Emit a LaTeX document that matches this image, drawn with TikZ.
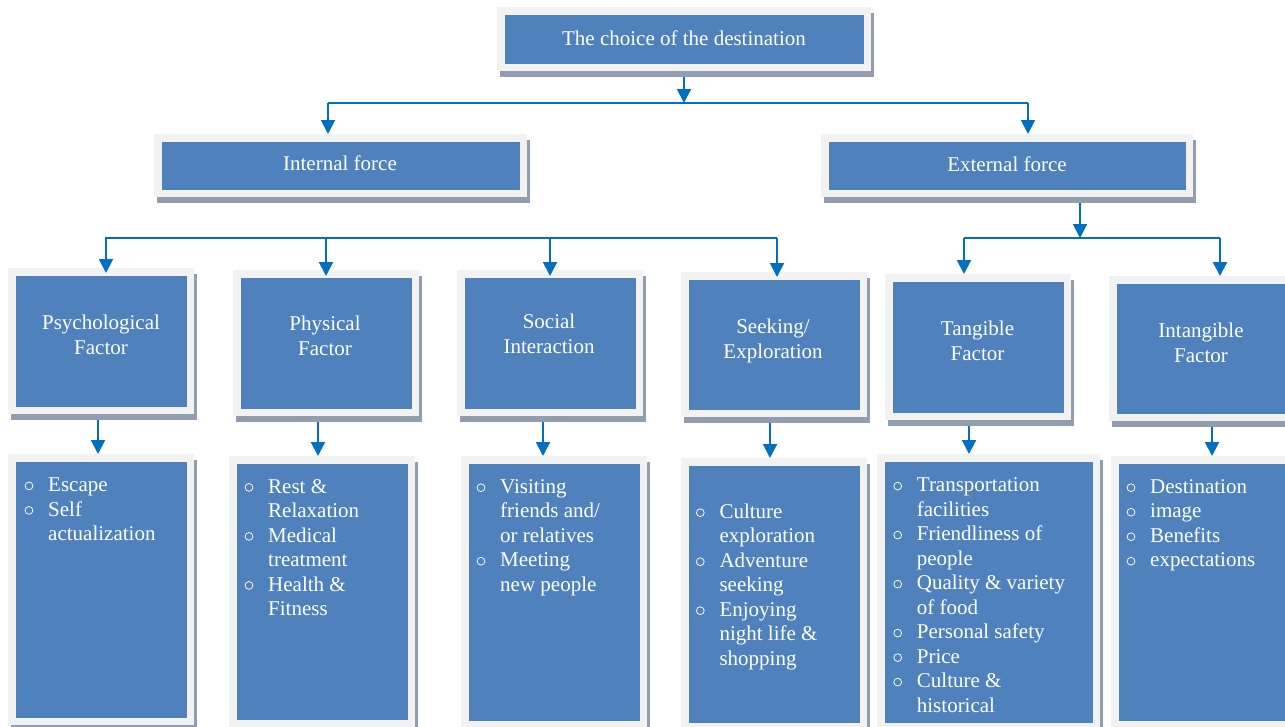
\documentclass[tikz,border=0pt]{standalone}
\usepackage{fontspec}
\setmainfont{Liberation Serif}
\usetikzlibrary{arrows.meta,fit,shadows}

\definecolor{boxblue}{HTML}{4F81BD}
\definecolor{framegray}{HTML}{F2F2F2}
\definecolor{shadowgray}{RGB}{146,158,175}
\definecolor{lineblue}{HTML}{0070C0}

% hollow list bullet and hanging indent for wrapped lines
\newcommand\bul{\makebox[24pt][l]{\tikz[baseline=0pt]{%
  \path (0pt,0pt) (9.6pt,0pt);
  \draw[white, line width=0.75pt] (4.8pt,5.6pt) circle[radius=3.9pt];}}}
\newcommand\cont{\hspace*{24pt}}

\tikzset{
  panel/.style={fill=framegray, inner sep=0pt, outer sep=0pt,
    drop shadow={shadow xshift=3pt, shadow yshift=-6pt, fill=shadowgray, opacity=1},
    path picture={\fill[boxblue]
      ([shift={(7.5pt,7.5pt)}]path picture bounding box.south west) rectangle
      ([shift={(-7.5pt,-7.5pt)}]path picture bounding box.north east);}},
  lbl/.style={text=white, inner sep=0pt, anchor=base, font=\fontsize{21}{25}\selectfont},
  lst/.style={text=white, inner sep=0pt, anchor=base west, font=\fontsize{21}{24.5}\selectfont},
  bus/.style={draw=lineblue, line width=2pt},
  arr/.style={draw=lineblue, line width=2pt, -{Triangle[width=14pt,length=14pt]}},
}

\begin{document}
\begin{tikzpicture}[x=1pt,y=-1pt]
\useasboundingbox (0,0) rectangle (1285,726);
\clip (0,0) rectangle (1285,726);

% ---- framed boxes ----
\node[panel, fit={(497,7) (871,71)}] (top) {};
\node[panel, fit={(154,134) (527,197)}] (int) {};
\node[panel, fit={(821,134) (1193,197)}] (ext) {};

\node[panel, fit={(8,268) (194,414)}] (psy) {};
\node[panel, fit={(233,270) (419,416)}] (phy) {};
\node[panel, fit={(457,270) (643,416)}] (soc) {};
\node[panel, fit={(681,272) (867,417)}] (see) {};
\node[panel, fit={(885,274) (1071,420)}] (tan) {};
\node[panel, fit={(1109,276) (1297,421)}] (itn) {};

\node[panel, fit={(8,454) (194,725)}] (psyL) {};
\node[panel, fit={(229,456) (415,727)}] (phyL) {};
\node[panel, fit={(461,456) (647,728)}] (socL) {};
\node[panel, fit={(681,458) (867,730)}] (seeL) {};
\node[panel, fit={(877,454) (1100,730)}] (tanL) {};
\node[panel, fit={(1111,456) (1299,728)}] (itnL) {};

% ---- connector points ----
\coordinate (b1l) at (328,103);
\coordinate (b1r) at (1028,103);
\coordinate (b2l) at (105,238);
\coordinate (b2r) at (777,238);
\coordinate (d1) at (106,238);
\coordinate (d2) at (326,238);
\coordinate (d3) at (550,238);
\coordinate (d4) at (777,238);
\coordinate (e0) at (1080,238);
\coordinate (b3l) at (964,238);
\coordinate (b3r) at (1220,238);
\coordinate (a1) at (98,440);
\coordinate (a2) at (318,440);
\coordinate (a3) at (543,440);
\coordinate (a4) at (770,440);
\coordinate (a5) at (969,440);
\coordinate (a6) at (1212,440);

% ---- connectors ----
\draw[arr, shorten <=6pt] (top.south) -- (top.south |- b1l);
\draw[bus] (b1l) -- (b1r);
\draw[arr] (b1l) -- (b1l |- int.north);
\draw[arr] (b1r) -- (b1r |- ext.north);

\draw[bus] (b2l) -- (b2r);
\draw[arr, shorten >=-5pt] (d1) -- (d1 |- psy.north);
\draw[arr, shorten >=-6pt] (d2) -- (d2 |- phy.north);
\draw[arr, shorten >=-6pt] (d3) -- (d3 |- soc.north);
\draw[arr, shorten >=-5pt] (d4) -- (d4 |- see.north);

\draw[arr, shorten <=6pt] (ext.south -| e0) -- (e0);
\draw[bus] (b3l) -- (b3r);
\draw[arr] (b3l) -- (b3l |- tan.north);
\draw[arr] (b3r) -- (b3r |- itn.north);

\draw[arr, shorten <=6pt] (psy.south -| a1) -- (psyL.north -| a1);
\draw[arr, shorten <=6pt] (phy.south -| a2) -- (phyL.north -| a2);
\draw[arr, shorten <=6pt] (soc.south -| a3) -- (socL.north -| a3);
\draw[arr, shorten <=6pt] (see.south -| a4) -- (seeL.north -| a4);
\draw[arr, shorten <=6pt] (tan.south -| a5) -- (tanL.north -| a5);
\draw[arr, shorten <=6pt] (itn.south -| a6) -- (itnL.north -| a6);

% ---- headings ----
\node[lbl] (topT) at (684,45.5) {The choice of the destination};
\node[lbl] (intT) at (340,170) {Internal force};
\node[lbl] (extT) at (1007,171) {External force};

\node[lbl] (psyT) at (101,329) {\begin{tabular}[t]{@{}c@{}}Psychological\\Factor\end{tabular}};
\node[lbl] (phyT) at (325,330.5) {\begin{tabular}[t]{@{}c@{}}Physical\\Factor\end{tabular}};
\node[lbl] (socT) at (549,328.5) {\begin{tabular}[t]{@{}c@{}}Social\\Interaction\end{tabular}};
\node[lbl] (seeT) at (773,333.5) {\begin{tabular}[t]{@{}c@{}}Seeking/\\Exploration\end{tabular}};
\node[lbl] (tanT) at (977.5,335) {\begin{tabular}[t]{@{}c@{}}Tangible\\Factor\end{tabular}};
\node[lbl] (itnT) at (1201,337) {\begin{tabular}[t]{@{}c@{}}Intangible\\Factor\end{tabular}};

% ---- bullet lists ----
\node[lst] (psyX) at (24,491.5) {\begin{tabular}[t]{@{}l@{}}
  \bul Escape\\ \bul Self\\ \cont actualization\end{tabular}};
\node[lst] (phyX) at (244,493) {\begin{tabular}[t]{@{}l@{}}
  \bul Rest \&\\ \cont Relaxation\\ \bul Medical\\ \cont treatment\\
  \bul Health \&\\ \cont Fitness\end{tabular}};
\node[lst] (socX) at (476,493.3) {\begin{tabular}[t]{@{}l@{}}
  \bul Visiting\\ \cont friends and/\\ \cont or relatives\\
  \bul Meeting\\ \cont new people\end{tabular}};
\node[lst] (seeX) at (695.3,518.3) {\begin{tabular}[t]{@{}l@{}}
  \bul Culture\\ \cont exploration\\ \bul Adventure\\ \cont seeking\\
  \bul Enjoying\\ \cont night life \&\\ \cont shopping\end{tabular}};
\node[lst] (tanX) at (892.7,491.7) {\begin{tabular}[t]{@{}l@{}}
  \bul Transportation\\ \cont facilities\\ \bul Friendliness of\\ \cont people\\
  \bul Quality \& variety\\ \cont of food\\ \bul Personal safety\\ \bul Price\\
  \bul Culture \&\\ \cont historical\end{tabular}};
\node[lst] (itnX) at (1126,493.3) {\begin{tabular}[t]{@{}l@{}}
  \bul Destination\\ \bul image\\ \bul Benefits\\ \bul expectations\end{tabular}};
\end{tikzpicture}
\end{document}
